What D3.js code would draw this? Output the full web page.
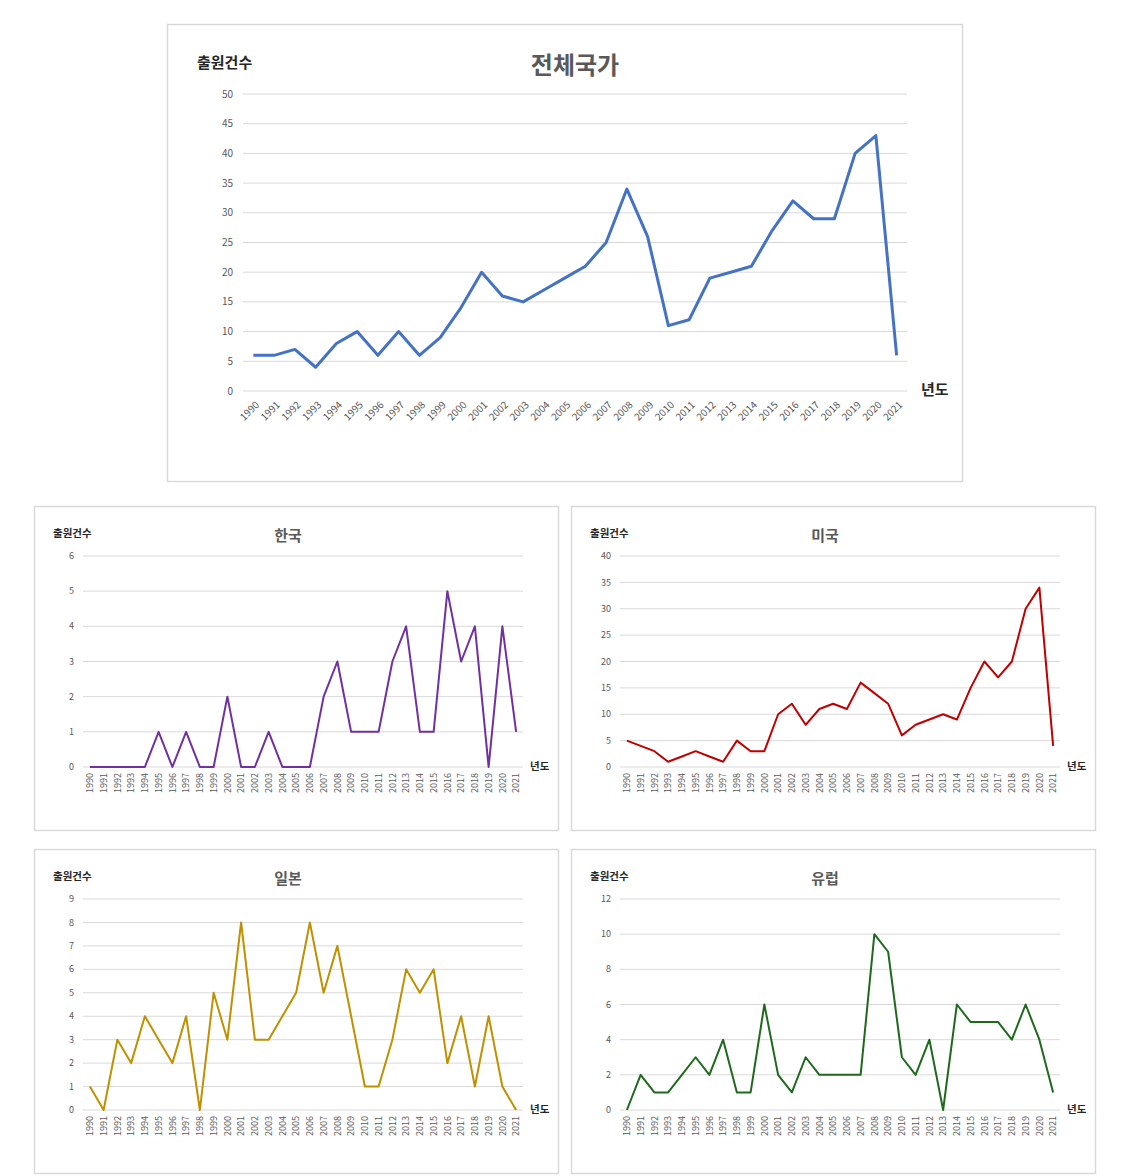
<!DOCTYPE html>
<html><head><meta charset="utf-8">
<script src="https://cdn.jsdelivr.net/npm/d3@7"></script>
<style>
body{margin:0;background:#fff;}
text{font-family:"Noto Sans CJK KR","Noto Sans",sans-serif;}
</style></head>
<body><svg id="c" width="1141" height="1176"></svg>
<script>
const years = d3.range(1990, 2022).map(String);
const total  = [6,6,7,4,8,10,6,10,6,9,14,20,16,15,17,19,21,25,34,26,11,12,19,20,21,27,32,29,29,40,43,6];
const korea  = [0,0,0,0,0,1,0,1,0,0,2,0,0,1,0,0,0,2,3,1,1,1,3,4,1,1,5,3,4,0,4,1];
const usa    = [5,4,3,1,2,3,2,1,5,3,3,10,12,8,11,12,11,16,14,12,6,8,9,10,9,15,20,17,20,30,34,4];
const japan  = [1,0,3,2,4,3,2,4,0,5,3,8,3,3,4,5,8,5,7,4,1,1,3,6,5,6,2,4,1,4,1,0];
const europe = [0,2,1,1,2,3,2,4,1,1,6,2,1,3,2,2,2,2,10,9,3,2,4,0,6,5,5,5,4,6,4,1];
const yLabel = "출원건수", xLabel = "년도";

const svg = d3.select("#c");

function panel(o){
  const g = svg.append("g");
  g.append("rect").attr("x",o.px+0.5).attr("y",o.py+0.5).attr("width",o.pw).attr("height",o.ph)
    .attr("fill","#fff").attr("stroke","#d9d9d9").attr("stroke-width",1.5);
  const x = d3.scalePoint().domain(years).range([o.x0,o.x1]).padding(0.5);
  const y = d3.scaleLinear().domain([0,o.max]).range([o.y0,o.y1]);
  const ticks = d3.range(0,o.max+0.001,o.step);
  g.selectAll(".grid").data(ticks).join("line")
    .attr("x1",o.x0).attr("x2",o.x1).attr("y1",d=>y(d)).attr("y2",d=>y(d))
    .attr("stroke","#d9d9d9").attr("stroke-width",1);
  g.selectAll(".yt").data(ticks).join("text")
    .attr("x",o.x0-o.ylOff).attr("y",d=>y(d)).attr("dy","0.35em")
    .attr("text-anchor","end").attr("font-size",o.tick).attr("fill","#595959").text(d=>d);
  g.selectAll(".xt").data(years).join("text")
    .attr("transform",d=>`translate(${x(d)+o.xlDx},${o.y0+o.xlDy}) rotate(${o.rot})`)
    .attr("text-anchor","end").attr("dy","0.35em")
    .attr("font-size",o.tick).attr("fill","#595959").text(d=>d);
  g.append("path").datum(o.data)
    .attr("d",d3.line().x((d,i)=>x(years[i])).y(d=>y(d)))
    .attr("fill","none").attr("stroke",o.color).attr("stroke-width",o.lw).attr("stroke-linejoin","round");
  g.append("text").attr("x",o.tx).attr("y",o.ty).attr("text-anchor","middle")
    .attr("font-size",o.tsize).attr("font-weight","bold").attr("fill","#595959").text(o.title);
  g.append("text").attr("x",o.ylx).attr("y",o.yly).attr("font-size",o.lsize)
    .attr("font-weight","bold").attr("fill","#262626").text(yLabel);
  g.append("text").attr("x",o.xlx).attr("y",o.xly).attr("font-size",o.lsize)
    .attr("font-weight","bold").attr("fill","#262626").text(xLabel);
}

panel({px:167,py:24,pw:795,ph:457,x0:243,x1:907,y0:391,y1:94,max:50,step:5,
  data:total,color:"#4472C4",lw:3,title:"전체국가",tx:575,ty:74,tsize:24,
  ylx:197,yly:68,xlx:921,xly:395,lsize:15,tick:10,ylOff:10,xlDx:4,xlDy:12,rot:-45});

const small = [
  {px:34,py:506,title:"한국",data:korea,max:6,step:1,color:"#7030A0"},
  {px:571,py:506,title:"미국",data:usa,max:40,step:5,color:"#C00000"},
  {px:34,py:849,title:"일본",data:japan,max:9,step:1,color:"#BF9000"},
  {px:571,py:849,title:"유럽",data:europe,max:12,step:2,color:"#1D6A1D"}
];
small.forEach(s=>{
  panel(Object.assign({pw:524,ph:324,x0:s.px+49,x1:s.px+489,y0:s.py+261,y1:s.py+50,
    lw:2,tx:s.px+254,ty:s.py+35,tsize:15,ylx:s.px+19,yly:s.py+31,xlx:s.px+496,xly:s.py+264,
    lsize:10.5,tick:9,ylOff:9,xlDx:0,xlDy:6,rot:-90},s));
});
</script></body></html>
